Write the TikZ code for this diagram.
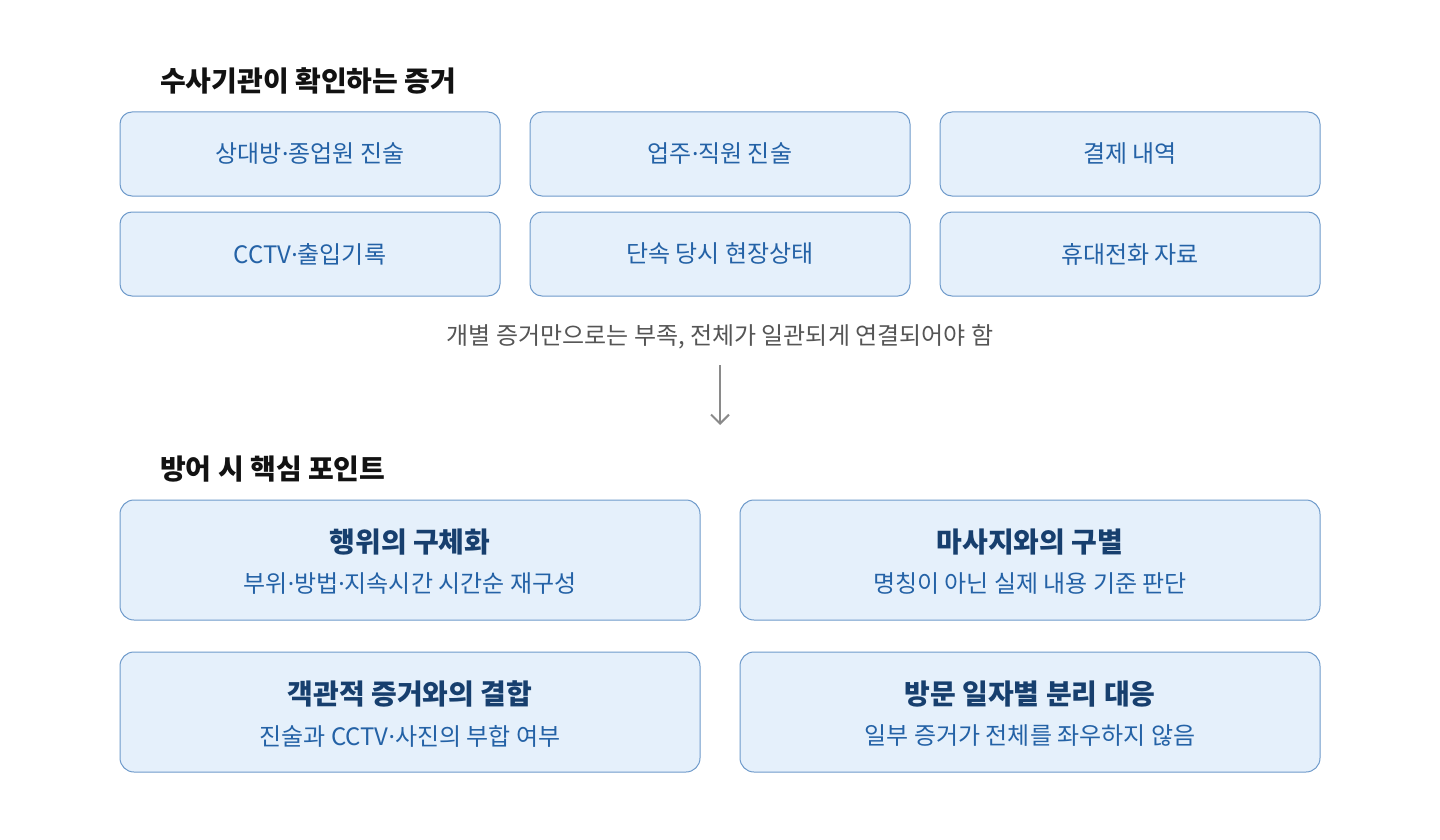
\documentclass[tikz,border=0pt]{standalone}
\usepackage{fontspec}
\setmainfont{Noto Sans CJK KR}
\newfontfamily\latinf{Noto Sans}
\newcommand\mdt{{\latinf ·}}
\usetikzlibrary{arrows.meta}
\definecolor{boxfill}{HTML}{E5F0FB}
\definecolor{boxline}{HTML}{6E9ACB}
\definecolor{boxtext}{HTML}{2462A6}
\definecolor{titletext}{HTML}{173F6E}
\definecolor{notegray}{HTML}{555555}
\definecolor{arrowgray}{HTML}{8A8A8A}
\tikzset{
  evbox/.style={draw=boxline, fill=boxfill, line width=1pt, rounded corners=12pt,
    minimum width=380pt, minimum height=84pt, inner sep=0pt,
    text=boxtext, font=\fontsize{24}{28}\selectfont},
  ptbox/.style={draw=boxline, fill=boxfill, line width=1pt, rounded corners=14pt,
    minimum width=580pt, minimum height=120pt, inner sep=0pt},
  heading/.style={anchor=west, inner sep=0pt, text=black!93, font=\fontsize{28}{32}\selectfont\bfseries},
  pttitle/.style={inner sep=0pt, text=titletext, font=\fontsize{28}{32}\selectfont\bfseries},
  ptsub/.style={inner sep=0pt, text=boxtext, font=\fontsize{24}{28}\selectfont},
  note/.style={inner sep=0pt, text=notegray, font=\fontsize{24}{28}\selectfont},
  flowarrow/.style={draw=arrowgray, line width=2pt, -{Straight Barb[length=9pt,width=18pt,line width=2pt]}}
}
\begin{document}
\begin{tikzpicture}[x=1pt,y=-1pt]
\useasboundingbox (0,0) rectangle (1440,840);
\fill[white] (0,0) rectangle (1440,840);

\node[heading] (h1) at (160,81) {수사기관이 확인하는 증거};

\node[evbox] (b1) at (310,154) {상대방\mdt 종업원 진술};
\node[evbox] (b2) at (720,154) {업주\mdt 직원 진술};
\node[evbox] (b3) at (1130,154) {결제 내역};
\node[evbox] (b4) at (310,254) {CCTV\mdt 출입기록};
\node[evbox] (b5) at (720,254) {단속 당시 현장상태};
\node[evbox] (b6) at (1130,254) {휴대전화 자료};

\node[note] (n1) at (720,337) {개별 증거만으로는 부족, 전체가 일관되게 연결되어야 함};

\coordinate (a1) at (720,365);
\coordinate (a2) at (720,425);
\draw[flowarrow] (a1) -- (a2);

\node[heading] (h2) at (160,469) {방어 시 핵심 포인트};

\node[ptbox] (p1) at (410,560) {};
\node[pttitle] (p1t) at (410,542) {행위의 구체화};
\node[ptsub] (p1s) at (410,584) {부위\mdt 방법\mdt 지속시간 시간순 재구성};

\node[ptbox] (p2) at (1030,560) {};
\node[pttitle] (p2t) at (1030,542) {마사지와의 구별};
\node[ptsub] (p2s) at (1030,584) {명칭이 아닌 실제 내용 기준 판단};

\node[ptbox] (p3) at (410,712) {};
\node[pttitle] (p3t) at (410,694) {객관적 증거와의 결합};
\node[ptsub] (p3s) at (410,736) {진술과 CCTV\mdt 사진의 부합 여부};

\node[ptbox] (p4) at (1030,712) {};
\node[pttitle] (p4t) at (1030,694) {방문 일자별 분리 대응};
\node[ptsub] (p4s) at (1030,736) {일부 증거가 전체를 좌우하지 않음};
\end{tikzpicture}
\end{document}
